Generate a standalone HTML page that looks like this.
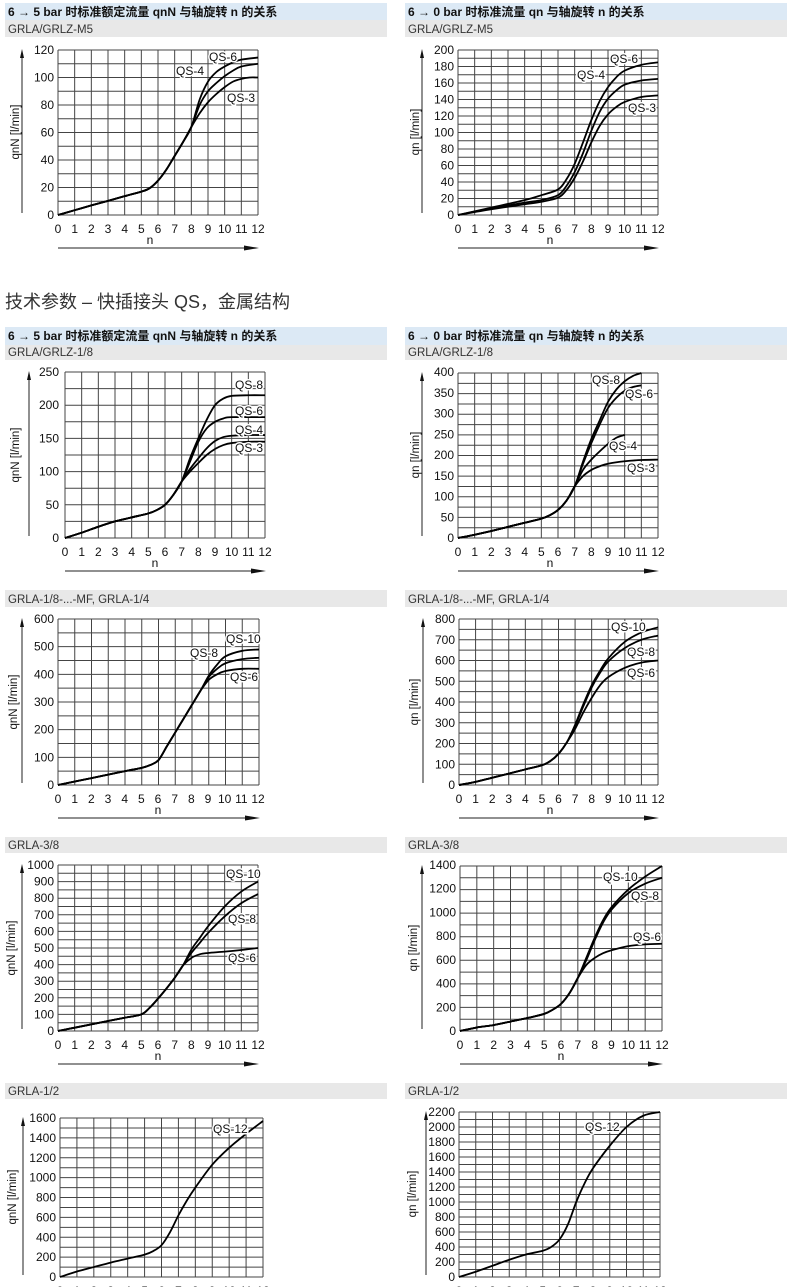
<!DOCTYPE html>
<html><head><meta charset="utf-8"><style>
body{margin:0;background:#fff;width:790px;height:1287px;overflow:hidden}
svg{display:block}
text{font-family:"Liberation Sans","Noto Sans CJK SC",sans-serif;fill:#111}
.t{font-size:12px}
.h{font-size:12px;font-weight:bold;font-family:"Liberation Sans","Noto Sans CJK SC",sans-serif}
.s{font-size:11.5px;fill:#333}
.y text{text-anchor:end;font-size:12px}
.x text{text-anchor:middle;font-size:12px}
.q{font-size:12px;paint-order:stroke;stroke:#fff;stroke-width:3px}
.al{font-size:11.5px;text-anchor:middle}
</style></head><body>
<svg id="s" width="790" height="1287" viewBox="0 0 790 1287">
<g id="geo"></g>
<rect x="5" y="3" width="382" height="17" fill="#dce9f5"/><rect x="5" y="20" width="382" height="17" fill="#e8e8e8"/>
<rect x="405" y="3" width="382" height="17" fill="#dce9f5"/><rect x="405" y="20" width="382" height="17" fill="#e8e8e8"/>
<rect x="5" y="327" width="382" height="18" fill="#dce9f5"/><rect x="5" y="345" width="382" height="15" fill="#e8e8e8"/>
<rect x="405" y="327" width="382" height="18" fill="#dce9f5"/><rect x="405" y="345" width="382" height="15" fill="#e8e8e8"/>
<rect x="5" y="590" width="382" height="17" fill="#e8e8e8"/><rect x="405" y="590" width="382" height="17" fill="#e8e8e8"/>
<rect x="5" y="837" width="382" height="16" fill="#e8e8e8"/><rect x="405" y="837" width="382" height="16" fill="#e8e8e8"/>
<rect x="5" y="1083" width="382" height="16" fill="#e8e8e8"/><rect x="405" y="1083" width="382" height="16" fill="#e8e8e8"/>
<text class="h" x="8" y="16">6 → 5 bar 时标准额定流量 qnN 与轴旋转 n 的关系</text>
<text class="s" x="8" y="33">GRLA/GRLZ-M5</text>
<text class="h" x="408" y="16">6 → 0 bar 时标准流量 qn 与轴旋转 n 的关系</text>
<text class="s" x="408" y="33">GRLA/GRLZ-M5</text>
<text x="5" y="308" style="font-size:18px;fill:#333">技术参数 – 快插接头 QS，金属结构</text>
<text class="h" x="8" y="340">6 → 5 bar 时标准额定流量 qnN 与轴旋转 n 的关系</text>
<text class="s" x="8" y="356">GRLA/GRLZ-1/8</text>
<text class="h" x="408" y="340">6 → 0 bar 时标准流量 qn 与轴旋转 n 的关系</text>
<text class="s" x="408" y="356">GRLA/GRLZ-1/8</text>
<text class="s" x="8" y="603">GRLA-1/8-...-MF, GRLA-1/4</text>
<text class="s" x="408" y="603">GRLA-1/8-...-MF, GRLA-1/4</text>
<text class="s" x="8" y="849">GRLA-3/8</text>
<text class="s" x="408" y="849">GRLA-3/8</text>
<text class="s" x="8" y="1095">GRLA-1/2</text>
<text class="s" x="408" y="1095">GRLA-1/2</text>

<g class="y" transform="translate(54,4)"><text y="215">0</text><text y="187.5">20</text><text y="160">40</text><text y="132.5">60</text><text y="105">80</text><text y="77.5">100</text><text y="50">120</text></g>
<g class="x" transform="translate(58,233)"><text x="0">0</text><text x="16.67">1</text><text x="33.33">2</text><text x="50">3</text><text x="66.67">4</text><text x="83.33">5</text><text x="100">6</text><text x="116.67">7</text><text x="133.33">8</text><text x="150">9</text><text x="166.67">10</text><text x="183.33">11</text><text x="200">12</text></g>
<text class="t" x="150" y="244" text-anchor="middle">n</text>
<text class="al" transform="translate(19,132) rotate(-90)">qnN  [l/min]</text>
<text class="q" x="209" y="61">QS-6</text><text class="q" x="176" y="75">QS-4</text><text class="q" x="227" y="102">QS-3</text>

<g class="y" transform="translate(454,4)"><text y="215">0</text><text y="198.5">20</text><text y="182">40</text><text y="165.5">60</text><text y="149">80</text><text y="132.5">100</text><text y="116">120</text><text y="99.5">140</text><text y="83">160</text><text y="66.5">180</text><text y="50">200</text></g>
<g class="x" transform="translate(458,233)"><text x="0">0</text><text x="16.67">1</text><text x="33.33">2</text><text x="50">3</text><text x="66.67">4</text><text x="83.33">5</text><text x="100">6</text><text x="116.67">7</text><text x="133.33">8</text><text x="150">9</text><text x="166.67">10</text><text x="183.33">11</text><text x="200">12</text></g>
<text class="t" x="550" y="244" text-anchor="middle">n</text>
<text class="al" transform="translate(419,132) rotate(-90)">qn  [l/min]</text>
<text class="q" x="610" y="63">QS-6</text><text class="q" x="577" y="79">QS-4</text><text class="q" x="628" y="112">QS-3</text>

<g class="y" transform="translate(59,4)"><text y="538">0</text><text y="504.8">50</text><text y="471.6">100</text><text y="438.4">150</text><text y="405.2">200</text><text y="372">250</text></g>
<g class="x" transform="translate(65,556)"><text x="0">0</text><text x="16.67">1</text><text x="33.33">2</text><text x="50">3</text><text x="66.67">4</text><text x="83.33">5</text><text x="100">6</text><text x="116.67">7</text><text x="133.33">8</text><text x="150">9</text><text x="166.67">10</text><text x="183.33">11</text><text x="200">12</text></g>
<text class="t" x="155" y="567" text-anchor="middle">n</text>
<text class="al" transform="translate(19,455) rotate(-90)">qnN  [l/min]</text>
<text class="q" x="235" y="389">QS-8</text><text class="q" x="235" y="415">QS-6</text><text class="q" x="235" y="434">QS-4</text><text class="q" x="235" y="452">QS-3</text>

<g class="y" transform="translate(454,4)"><text y="538">0</text><text y="517.25">50</text><text y="496.5">100</text><text y="475.75">150</text><text y="455">200</text><text y="434.25">250</text><text y="413.5">300</text><text y="392.75">350</text><text y="372">400</text></g>
<g class="x" transform="translate(458,556)"><text x="0">0</text><text x="16.67">1</text><text x="33.33">2</text><text x="50">3</text><text x="66.67">4</text><text x="83.33">5</text><text x="100">6</text><text x="116.67">7</text><text x="133.33">8</text><text x="150">9</text><text x="166.67">10</text><text x="183.33">11</text><text x="200">12</text></g>
<text class="t" x="550" y="567" text-anchor="middle">n</text>
<text class="al" transform="translate(419,455) rotate(-90)">qn  [l/min]</text>
<text class="q" x="592" y="384">QS-8</text><text class="q" x="625" y="398">QS-6</text><text class="q" x="609" y="450">QS-4</text><text class="q" x="627" y="472">QS-3</text>

<g class="y" transform="translate(54,4)"><text y="785">0</text><text y="757.3">100</text><text y="729.7">200</text><text y="702">300</text><text y="674.3">400</text><text y="646.7">500</text><text y="619">600</text></g>
<g class="x" transform="translate(58,803)"><text x="0">0</text><text x="16.67">1</text><text x="33.33">2</text><text x="50">3</text><text x="66.67">4</text><text x="83.33">5</text><text x="100">6</text><text x="116.67">7</text><text x="133.33">8</text><text x="150">9</text><text x="166.67">10</text><text x="183.33">11</text><text x="200">12</text></g>
<text class="t" x="158" y="814" text-anchor="middle">n</text>
<text class="al" transform="translate(17,702) rotate(-90)">qnN  [l/min]</text>
<text class="q" x="226" y="643">QS-10</text><text class="q" x="190" y="657">QS-8</text><text class="q" x="230" y="681">QS-6</text>

<g class="y" transform="translate(455,4)"><text y="785">0</text><text y="764.25">100</text><text y="743.5">200</text><text y="722.75">300</text><text y="702">400</text><text y="681.25">500</text><text y="660.5">600</text><text y="639.75">700</text><text y="619">800</text></g>
<g class="x" transform="translate(459,803)"><text x="0">0</text><text x="16.58">1</text><text x="33.17">2</text><text x="49.75">3</text><text x="66.33">4</text><text x="82.92">5</text><text x="99.5">6</text><text x="116.08">7</text><text x="132.67">8</text><text x="149.25">9</text><text x="165.83">10</text><text x="182.42">11</text><text x="199">12</text></g>
<text class="t" x="550" y="814" text-anchor="middle">n</text>
<text class="al" transform="translate(418,702) rotate(-90)">qn  [l/min]</text>
<text class="q" x="611" y="631">QS-10</text><text class="q" x="627" y="656">QS-8</text><text class="q" x="627" y="677">QS-6</text>

<g class="y" transform="translate(54,4)"><text y="1031">0</text><text y="1014.4">100</text><text y="997.8">200</text><text y="981.2">300</text><text y="964.6">400</text><text y="948">500</text><text y="931.4">600</text><text y="914.8">700</text><text y="898.2">800</text><text y="881.6">900</text><text y="865">1000</text></g>
<g class="x" transform="translate(58,1049)"><text x="0">0</text><text x="16.67">1</text><text x="33.33">2</text><text x="50">3</text><text x="66.67">4</text><text x="83.33">5</text><text x="100">6</text><text x="116.67">7</text><text x="133.33">8</text><text x="150">9</text><text x="166.67">10</text><text x="183.33">11</text><text x="200">12</text></g>
<text class="t" x="158" y="1060" text-anchor="middle">n</text>
<text class="al" transform="translate(15,948) rotate(-90)">qnN  [l/min]</text>
<text class="q" x="226" y="878">QS-10</text><text class="q" x="228" y="923">QS-8</text><text class="q" x="228" y="962">QS-6</text>

<g class="y" transform="translate(456,4)"><text y="1031">0</text><text y="1007.3">200</text><text y="983.6">400</text><text y="959.9">600</text><text y="936.1">800</text><text y="912.4">1000</text><text y="888.7">1200</text><text y="865">1400</text></g>
<g class="x" transform="translate(460,1049)"><text x="0">0</text><text x="16.83">1</text><text x="33.67">2</text><text x="50.5">3</text><text x="67.33">4</text><text x="84.17">5</text><text x="101">6</text><text x="117.83">7</text><text x="134.67">8</text><text x="151.5">9</text><text x="168.33">10</text><text x="185.17">11</text><text x="202">12</text></g>
<text class="t" x="561" y="1060" text-anchor="middle">n</text>
<text class="al" transform="translate(417,948) rotate(-90)">qn  [l/min]</text>
<text class="q" x="603" y="881">QS-10</text><text class="q" x="631" y="900">QS-8</text><text class="q" x="633" y="941">QS-6</text>

<g class="y" transform="translate(56,4)"><text y="1277">0</text><text y="1257.1">200</text><text y="1237.25">400</text><text y="1217.4">600</text><text y="1197.5">800</text><text y="1177.6">1000</text><text y="1157.75">1200</text><text y="1137.9">1400</text><text y="1118">1600</text></g>
<g class="x" transform="translate(60,1295)"><text x="0">0</text><text x="16.92">1</text><text x="33.83">2</text><text x="50.75">3</text><text x="67.67">4</text><text x="84.58">5</text><text x="101.5">6</text><text x="118.42">7</text><text x="135.33">8</text><text x="152.25">9</text><text x="169.17">10</text><text x="186.08">11</text><text x="203">12</text></g>
<text class="al" transform="translate(16,1197) rotate(-90)">qnN  [l/min]</text>
<text class="q" x="213" y="1133">QS-12</text>

<g class="y" transform="translate(455,4)"><text y="1277">0</text><text y="1262">200</text><text y="1247">400</text><text y="1232">600</text><text y="1217">800</text><text y="1202">1000</text><text y="1187">1200</text><text y="1172">1400</text><text y="1157">1600</text><text y="1142">1800</text><text y="1127">2000</text><text y="1112">2200</text></g>
<g class="x" transform="translate(459,1295)"><text x="0">0</text><text x="16.75">1</text><text x="33.5">2</text><text x="50.25">3</text><text x="67">4</text><text x="83.75">5</text><text x="100.5">6</text><text x="117.25">7</text><text x="134">8</text><text x="150.75">9</text><text x="167.5">10</text><text x="184.25">11</text><text x="201">12</text></g>
<text class="al" transform="translate(416,1194) rotate(-90)">qn  [l/min]</text>
<text class="q" x="585" y="1131">QS-12</text>
</svg>
<script>
var g=document.getElementById('geo'),out='';
function C(x0,x1,yT,y0,max,minor,curves,axX){
 var sx=(x1-x0)/12,sy=(y0-yT)/max,i;
 for(i=0;i<=12;i++){var x=x0+i*sx;out+='<line x1="'+x+'" y1="'+yT+'" x2="'+x+'" y2="'+y0+'" stroke="#444" stroke-width="1"/>';}
 for(var v=0;v<=max+0.001;v+=minor){var y=y0-v*sy;out+='<line x1="'+x0+'" y1="'+y+'" x2="'+x1+'" y2="'+y+'" stroke="#444" stroke-width="1"/>';}
 var ax=x0-(axX||36);
 out+='<line x1="'+ax+'" y1="'+(y0-2)+'" x2="'+ax+'" y2="'+(yT+6)+'" stroke="#222" stroke-width="1"/>';
 out+='<polygon points="'+(ax-2)+','+(yT+8)+' '+(ax+2)+','+(yT+8)+' '+ax+','+(yT-1)+'" fill="#111"/>';
 var ay=y0+33;
 out+='<line x1="'+x0+'" y1="'+ay+'" x2="'+(x1-6)+'" y2="'+ay+'" stroke="#222" stroke-width="1"/>';
 out+='<polygon points="'+(x1-14)+','+(ay-2.5)+' '+(x1-14)+','+(ay+2.5)+' '+(x1+1)+','+ay+'" fill="#111"/>';
 curves.forEach(function(c){
  var p=c.map(function(q){return [x0+q[0]*sx,y0-q[1]*sy];});
  var d='M'+p[0][0]+' '+p[0][1];
  for(var k=0;k<p.length-1;k++){
   var a=p[k-1]||p[k],b=p[k],cc=p[k+1],dd=p[k+2]||cc;
   d+=' C'+(b[0]+(cc[0]-a[0])/6)+' '+(b[1]+(cc[1]-a[1])/6)+' '+(cc[0]-(dd[0]-b[0])/6)+' '+(cc[1]-(dd[1]-b[1])/6)+' '+cc[0]+' '+cc[1];
  }
  out+='<path d="'+d+'" fill="none" stroke="#000" stroke-width="1.8"/>';
 });
}
function J(a,b){return a.concat(b);}
var c1=[[0,0],[1,3.5],[2,7],[3,10.3],[4,13.7],[5,17],[5.5,19.5],[6,25],[6.5,33],[7,43],[7.5,53],[8,64]];
C(58,258,50,215,120,10,[J(c1,[[8.5,74],[9,82],[9.5,88],[10,93],[10.5,97],[11,99],[11.5,100],[12,100]]),J(c1,[[8.5,80],[9,90],[9.5,96],[10,101],[10.5,105],[11,108],[12,110]]),J(c1,[[8.5,84],[9,97],[9.5,104],[10,108],[10.5,111],[11,113],[12,114.5]])]);
C(458,658,50,215,200,10,[[[0,0],[2,7],[4,13],[5,16],[6,21],[6.5,30],[7,45],[7.5,65],[8,88],[8.5,108],[9,122],[9.5,131],[10,137],[11,143],[12,145]],[[0,0],[2,8],[4,15],[5,18],[6,24],[6.5,35],[7,52],[7.5,75],[8,102],[8.5,125],[9,141],[9.5,151],[10,158],[11,163],[12,165]],[[0,0],[2,9],[4,18],[5,24],[6,31],[6.5,43],[7,62],[7.5,88],[8,115],[8.5,138],[9,155],[9.5,167],[10,175],[11,182],[12,185]]]);
var c3=[[0,0],[1,8],[2,17],[3,25],[4,31],[5,37],[5.5,42],[6,50],[6.5,65],[7,85]];
C(65,265,372,538,250,25,[J(c3,[[7.5,100],[8,113],[8.5,125],[9,134],[9.5,140],[10,143],[11,145],[12,145]]),J(c3,[[7.5,104],[8,120],[8.5,135],[9,146],[9.5,152],[10,154],[11,155],[12,155]]),J(c3,[[7.5,115],[8,145],[8.5,165],[9,175],[9.5,180],[10,182],[12,182]]),J(c3,[[7.5,120],[8,150],[8.5,178],[9,200],[9.5,210],[10,214],[11,215],[12,215]])]);
var c4=[[0,0],[1,8],[2,17],[3,27],[4,37],[5,47],[5.5,55],[6,68],[6.5,90],[7,125]];
C(458,658,373,538,400,25,[J(c4,[[7.5,150],[8,165],[8.5,174],[9,180],[10,186],[11,189],[12,190]]),J(c4,[[7.5,165],[8,190],[8.5,210],[9,228],[9.5,243],[10,250]]),J(c4,[[7.5,180],[8,230],[8.5,275],[9,315],[9.5,340],[10,357],[10.5,366],[11,370]]),J(c4,[[7.5,185],[8,240],[8.5,285],[9,330],[9.5,360],[10,380],[10.5,393],[11,400]])]);
var c5=[[0,0],[2,25],[4,50],[5,62],[5.5,72],[6,90],[6.5,140],[7,190],[7.5,240],[8,290],[8.5,340]];
C(58,259,619,785,600,50,[J(c5,[[9,380],[9.5,400],[10,412],[11,420],[12,420]]),J(c5,[[9,390],[9.5,420],[10,440],[11,455],[12,460]]),J(c5,[[9,395],[9.5,435],[10,465],[11,485],[12,490]])]);
var c6=[[0,0],[1,15],[2,35],[3,55],[4,75],[5,95],[5.5,115],[6,150],[6.5,205]];
C(459,658,619,785,800,50,[J(c6,[[7,270],[7.5,350],[8,420],[8.5,480],[9,520],[10,565],[11,590],[12,600]]),J(c6,[[7,285],[7.5,380],[8,470],[8.5,540],[9,595],[10,660],[11,700],[12,720]]),J(c6,[[7,290],[7.5,390],[8,480],[8.5,550],[9,610],[10,690],[11,735],[12,760]])]);
var c7=[[0,0],[1,20],[2,40],[3,60],[4,80],[5,100],[5.5,140],[6,195],[6.5,255],[7,320],[7.5,395]];
C(58,258,865,1031,1000,50,[J(c7,[[8,440],[8.5,462],[9,470],[10,478],[11,488],[12,500]]),J(c7,[[8,470],[8.5,530],[9,590],[10,690],[11,770],[12,825]]),J(c7,[[8,490],[8.5,560],[9,630],[10,750],[11,840],[12,900]])]);
var c8=[[0,0],[1,30],[2,50],[3,80],[4,110],[5,145],[5.5,180],[6,230],[6.5,320],[7,450]];
C(460,662,866,1031,1400,100,[J(c8,[[7.5,560],[8,620],[8.5,660],[9,685],[10,720],[11,735],[12,740]]),J(c8,[[7.5,600],[8,770],[8.5,920],[9,1030],[10,1170],[11,1250],[12,1300]]),J(c8,[[7.5,620],[8,790],[8.5,940],[9,1050],[10,1200],[11,1310],[12,1400]])],38);
C(60,263,1118,1277,1600,100,[[[0,0],[1,55],[2,100],[3,145],[4,185],[5,225],[5.5,260],[6,320],[6.5,450],[7,620],[7.5,770],[8,900],[9,1130],[10,1300],[11,1440],[12,1570]]],37);
C(459,660,1112,1277,2200,100,[[[0,0],[1,70],[2,150],[3,230],[4,300],[5,350],[5.5,400],[6,500],[6.5,700],[7,1000],[7.5,1250],[8,1450],[9,1750],[10,2000],[11,2150],[12,2200]]],33);
g.innerHTML=out;
</script>
</body></html>
